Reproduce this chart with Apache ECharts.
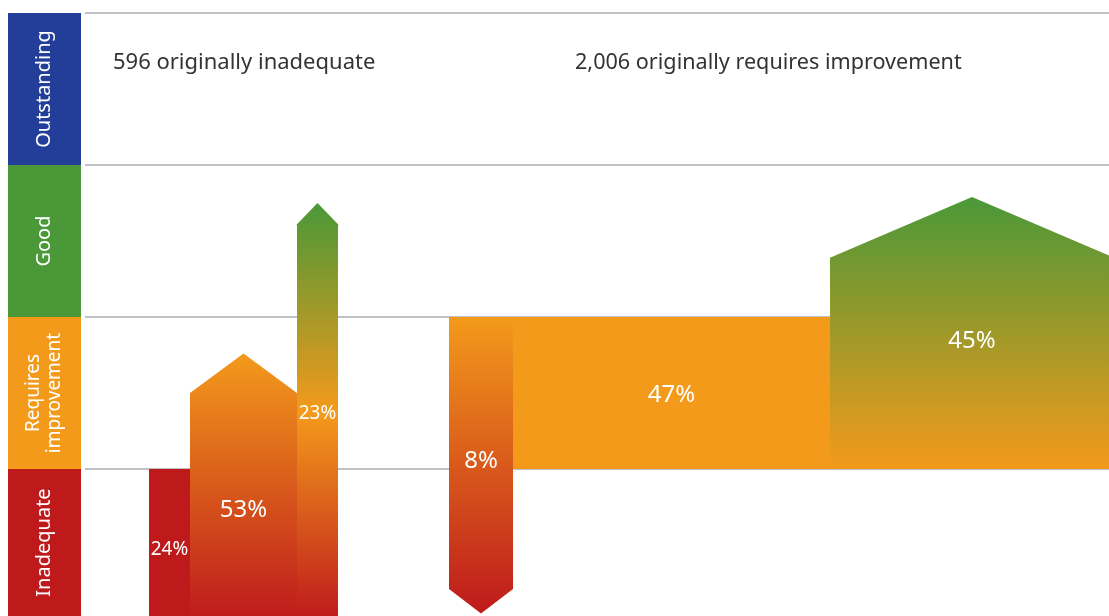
<!DOCTYPE html>
<html>
<head>
<meta charset="utf-8">
<script src="https://cdn.jsdelivr.net/npm/echarts@6/dist/echarts.min.js"></script>
<style>
html, body { margin: 0; padding: 0; background: #fff; }
#main { width: 1109px; height: 616px; }
</style>
</head>
<body>
<div id="main"></div>
<script>
// rating bands, bottom to top
var ratings = ['Inadequate', 'Requires\nimprovement', 'Good', 'Outstanding'];
var bandLines = [1, 2, 3, 4];
var groupTitles = ['596 originally inadequate', '2,006 originally requires improvement'];

// blocks: horizontal extent (chart units), start level, shoulder level, tip level
var segLabels = ['24%', '53%', '23%', '8%', '47%', '45%'];
var segLeft = [64, 105, 212, 364, 428, 745];
var segRight = [105, 212, 253, 428, 745, 1029];
var segFrom = [0, 0, 0, 2, 2, 1];
var segShoulder = [1, 1.5, 2.61, 0.21, 1, 2.39];
var segTip = [1, 1.76, 2.75, 0.05, 1, 2.79];
var segFromRating = [0, 0, 0, 1, 1, 1];
var segToRating = [0, 1, 2, 0, 1, 2];

// styling
var ratingColors = ['#be1a1c', '#f39a1b', '#4a9838', '#233e99'];
var labelNudge = [5, 3, -9, 8, 2, -22];
var font = 'Noto Sans';
var yBottom = 0.033; // picture is cropped a few pixels above the zero line

var chart = echarts.init(document.getElementById('main'));

function stopsFor(i) {
    var fr = segFromRating[i], tr = segToRating[i];
    var n = Math.abs(tr - fr), dir = tr > fr ? 1 : -1;
    if (n == 0) {
        return [{offset: 0, color: ratingColors[fr]}, {offset: 1, color: ratingColors[fr]}];
    }
    var stops = [];
    for (var k = 0; k <= n; k++) {
        stops.push({offset: k / n, color: ratingColors[fr + dir * k]});
    }
    return stops;
}

function renderBlock(params, api) {
    var i = params.dataIndex;
    var x0 = api.value(0), x1 = api.value(1);
    var from = api.value(2), sh = api.value(3), tip = api.value(4);
    var xm = (x0 + x1) / 2;
    var pts = [api.coord([x0, from]), api.coord([x1, from]), api.coord([x1, sh])];
    if (tip != sh) pts.push(api.coord([xm, tip]));
    pts.push(api.coord([x0, sh]));

    var up = sh > from;
    var grad = up ? new echarts.graphic.LinearGradient(0, 1, 0, 0, stopsFor(i))
                  : new echarts.graphic.LinearGradient(0, 0, 0, 1, stopsFor(i));
    var c = api.coord([xm, (from + sh) / 2]);
    var w = api.coord([x1, 0])[0] - api.coord([x0, 0])[0];

    return {
        type: 'group',
        children: [{
            type: 'polygon',
            shape: {points: pts},
            style: {fill: grad}
        }, {
            type: 'text',
            x: c[0],
            y: c[1] + labelNudge[i],
            style: {
                text: segLabels[i],
                fill: '#fff',
                fontSize: w < 50 ? 19 : 24,
                fontFamily: font,
                align: 'center',
                verticalAlign: 'middle'
            }
        }]
    };
}

var bandSeries = ratings.map(function (r, i) {
    return {
        type: 'bar',
        name: r,
        xAxisIndex: 1,
        yAxisIndex: 1,
        stack: 'bands',
        barWidth: '100%',
        data: [1],
        itemStyle: {color: ratingColors[i]},
        label: {
            show: true,
            position: 'inside',
            rotate: 90,
            formatter: r,
            color: '#fff',
            fontSize: i == 1 ? 19 : 20,
            lineHeight: 21,
            fontFamily: font
        },
        silent: true
    };
});

var option = {
    animation: false,
    title: [{
        text: groupTitles[0],
        left: 113, top: 52, padding: 0,
        textStyle: {fontSize: 22, fontWeight: 'normal', color: '#333', fontFamily: font}
    }, {
        text: groupTitles[1],
        left: 575, top: 52, padding: 0,
        textStyle: {fontSize: 21.6, fontWeight: 'normal', color: '#333', fontFamily: font}
    }],
    grid: [
        {left: 85, right: 0, top: 13, bottom: 0},
        {left: 8, width: 73, top: 13, bottom: 0}
    ],
    xAxis: [
        {type: 'value', gridIndex: 0, min: 0, max: 1024, show: false},
        {type: 'category', gridIndex: 1, data: [''], show: false}
    ],
    yAxis: [{
        type: 'value', gridIndex: 0, min: yBottom, max: 4, show: false, splitLine: {show: false}
    }, {
        type: 'value', gridIndex: 1, min: yBottom, max: 4, show: false, splitLine: {show: false}
    }],
    series: bandSeries.concat([{
        type: 'custom',
        renderItem: renderBlock,
        xAxisIndex: 0,
        yAxisIndex: 0,
        z: 3,
        data: segLabels.map(function (l, i) {
            return [segLeft[i], segRight[i], segFrom[i], segShoulder[i], segTip[i]];
        }),
        markLine: {
            silent: true,
            symbol: 'none',
            label: {show: false},
            lineStyle: {color: '#a9adb3', width: 1.5, type: 'solid'},
            z: 1,
            data: bandLines.map(function (v) { return {yAxis: v}; })
        },
        silent: true
    }])
};

chart.setOption(option);
</script>
</body>
</html>
